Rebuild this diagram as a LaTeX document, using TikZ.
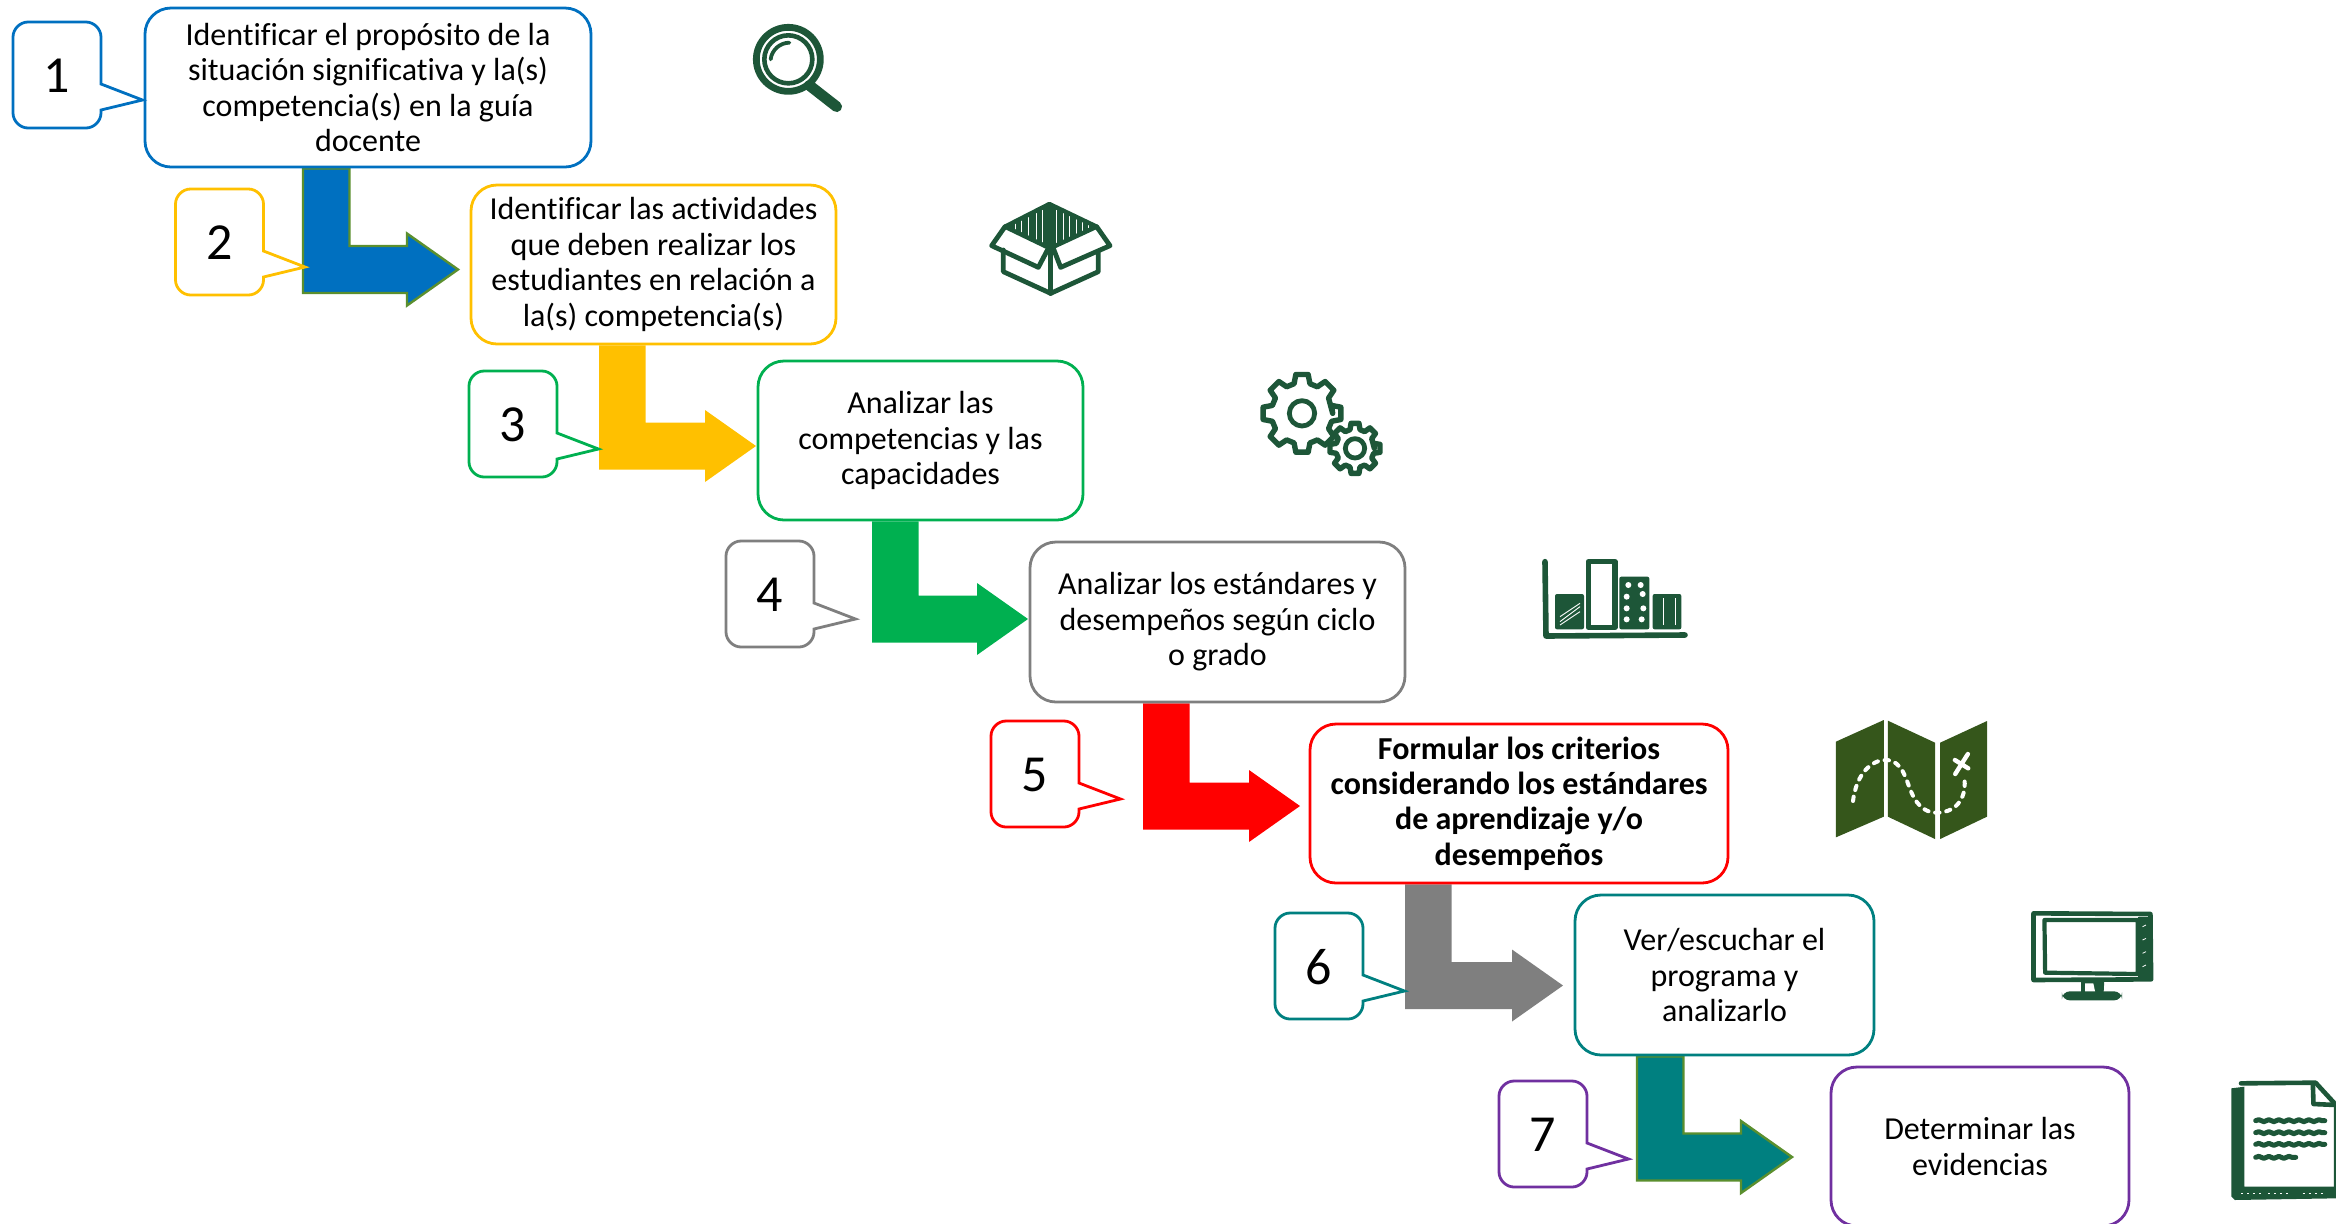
\documentclass[tikz,border=0pt]{standalone}
\usepackage{fontspec}
\setmainfont{Carlito}[Ligatures=CommonOff]
\usetikzlibrary{calc,decorations.pathmorphing}
\pgfdeclarelayer{back}
\pgfsetlayers{back,main}
\definecolor{cblue}{HTML}{0070C0}
\definecolor{cgold}{HTML}{FFC000}
\definecolor{cgreen}{HTML}{00B050}
\definecolor{cgray}{HTML}{7F7F7F}
\definecolor{cred}{HTML}{FF0000}
\definecolor{cteal}{HTML}{008080}
\definecolor{cpurple}{HTML}{7030A0}
\definecolor{coutl}{HTML}{5B8F2E}
\definecolor{icon}{HTML}{1D5638}
\definecolor{mapc}{HTML}{35561B}
\tikzset{
  boxst/.style={rectangle,rounded corners=13pt,line width=1.4pt,fill=white,inner sep=0pt,align=center,
    font=\fontsize{16}{17.7}\selectfont},
  numst/.style={inner sep=0pt,font=\fontsize{26}{28}\selectfont},
  callst/.style={line width=1.4pt,fill=white,line join=miter},
  outl/.style={draw=coutl,line width=1.2pt},
  ic/.style={draw=icon,line cap=round,line join=round},
}
\newcommand{\stepnode}[7]{%
  \node[boxst,draw=#6,minimum width={(#4-#2)*.5pt},minimum height={(#5-#3)*.5pt}] (#1) at ({(#2+#4)/2},{(#3+#5)/2}) {#7};}
\newcommand{\calloutnode}[5]{%
  \draw[callst,draw=#4]
    ({#2+88},{#3+88}) -- ({#2+88},{#3+91})
    .. controls ({#2+88},{#3+99}) and ({#2+81},{#3+106}) .. ({#2+73},{#3+106})
    -- ({#2+15},{#3+106})
    .. controls ({#2+7},{#3+106}) and ({#2},{#3+99}) .. ({#2},{#3+91})
    -- ({#2},{#3+15})
    .. controls ({#2},{#3+7}) and ({#2+7},{#3}) .. ({#2+15},{#3})
    -- ({#2+73},{#3})
    .. controls ({#2+81},{#3}) and ({#2+88},{#3+7}) .. ({#2+88},{#3+15})
    -- ({#2+88},{#3+62}) -- ({#2+129.5},{#3+78}) -- cycle;
  \node[numst] (#1) at ({#2+44},{#3+54}) {#5};}
\newcommand{\bent}[6]{% source node, left x, tip name, tip x, centre y, fill+style
  \coordinate (#3) at (#4,#5);
  \coordinate (#3L) at (#2,0);
  \coordinate (#3R) at ({#2+46.5},0);
  \begin{pgfonlayer}{back}
  \filldraw[#6] (#3L |- #1.south) -- (#3R |- #1.south) -- ({#2+46.5},{#5-23.5}) -- ({#4-51},{#5-23.5})
    -- ({#4-51},{#5-36}) -- (#3) -- ({#4-51},{#5+36}) -- ({#4-51},{#5+23.5}) -- (#2,{#5+23.5}) -- cycle;
  \end{pgfonlayer}}
\newcommand{\gearshape}[5]{% cx cy ro ri hub
  \begin{scope}[shift={(#1,#2)}]
   \draw[ic,line width=2.7pt,fill=white] (0:#4)
    \foreach \a in {0,45,...,315} { -- ({\a-15}:#4) -- ({\a-9}:#3) -- ({\a+9}:#3) -- ({\a+15}:#4) } -- cycle;
   \draw[ic,line width=2.4pt] (0,0) circle (#5);
  \end{scope}}
\begin{document}
\begin{tikzpicture}[x=.5pt,y=-.5pt]
\useasboundingbox (0,0) rectangle (2336,1223);
% step boxes
\stepnode{b1}{145}{8}{591}{167}{cblue}{Identificar el propósito de la\\situación significativa y la(s)\\competencia(s) en la guía\\docente}
\stepnode{b2}{471}{185}{836}{344}{cgold}{Identificar las actividades\\que deben realizar los\\estudiantes en relación a\\la(s) competencia(s)}
\stepnode{b3}{758}{361}{1083}{520}{cgreen}{Analizar las\\competencias y las\\capacidades}
\stepnode{b4}{1030}{542}{1405}{702}{cgray}{Analizar los estándares y\\desempeños según ciclo\\o grado}
\stepnode{b5}{1310}{724}{1728}{883}{cred}{\bfseries Formular los criterios\\\bfseries considerando los estándares\\\bfseries de aprendizaje y/o\\\bfseries desempeños}
\stepnode{b6}{1575}{895}{1874}{1055}{cteal}{Ver/escuchar el\\programa y\\analizarlo}
\stepnode{b7}{1831}{1067}{2129}{1226}{cpurple}{Determinar las\\evidencias}
% bent arrows
\bent{b1}{303}{t1}{458}{269.5}{fill=cblue,outl}
\bent{b2}{599}{t2}{756}{446}{fill=cgold,draw=none}
\bent{b3}{872}{t3}{1028}{619}{fill=cgreen,draw=none}
\bent{b4}{1143}{t4}{1300}{806}{fill=cred,draw=none}
\bent{b5}{1405}{t5}{1563}{985.5}{fill=cgray,draw=none}
\bent{b6}{1637}{t6}{1792}{1157}{fill=cteal,outl}
% numbered callouts
\calloutnode{c1}{13}{22}{cblue}{1}
\calloutnode{c2}{175.5}{189}{cgold}{2}
\calloutnode{c3}{469}{371}{cgreen}{3}
\calloutnode{c4}{726}{541}{cgray}{4}
\calloutnode{c5}{991}{721}{cred}{5}
\calloutnode{c6}{1275}{913}{cteal}{6}
\calloutnode{c7}{1499}{1081}{cpurple}{7}
% magnifier
\begin{scope}[shift={(720,0)},scale=1/3]
 \draw[ic,line width=3.4pt] (205,178) circle (96);
 \draw[ic,line width=2.3pt] (205,178) circle (72);
 \draw[ic,line width=1.9pt] (152,178) .. controls (155,150) and (180,128) .. (208,128);
 \draw[ic,line width=5.4pt] (268,256) -- (350,320);
\end{scope}
% open box
\begin{scope}[shift={(720,0)},scale=1/3]
 \fill[icon] (988,612) -- (1130,680) -- (990,745) -- (855,680) -- cycle;
 \foreach \xx/\ya/\yb in {885/668/694,905/660/704,925/650/712,948/636/724,968/625/730,1010/624/732,1030/634/722,1048/644/714,1068/654/704,1088/664/696,1106/672/688}
   \draw[white,line width=.5pt] (\xx,\ya) -- (\xx,\yb);
 \draw[ic,line width=2.2pt] (988,612) -- (1130,680) -- (990,745) -- (855,680) -- cycle;
 \draw[ic,line width=2.4pt] (855,680) -- (815,737) -- (955,802) -- (985,745);
 \draw[ic,line width=2.4pt] (1130,680) -- (1170,737) -- (1022,802) -- (1000,745);
 \draw[ic,line width=2.4pt] (850,750) -- (850,815) -- (992,880) -- (1135,815) -- (1135,755);
 \draw[ic,line width=2.6pt] (992,745) -- (992,880);
\end{scope}
% gears
\begin{scope}[shift={(1230,340)},scale=1/3]
 \gearshape{216}{220}{118}{92}{38}
 \gearshape{375}{325}{76}{58}{29}
\end{scope}
% bar chart
\begin{scope}[shift={(1230,340)},scale=1/3]
 \draw[ic,line width=2.8pt] (945,665) -- (948,888) -- (1365,885);
 \fill[icon,rounded corners=1pt] (975,762) rectangle (1062,868);
 \foreach \ya/\yb in {830/790,845/800,855/815}
   \draw[white,line width=.45pt] (990,\ya) -- (1050,\yb);
 \draw[ic,line width=2.6pt] (1075,665) rectangle (1155,862);
 \fill[icon,rounded corners=1pt] (1168,710) rectangle (1258,868);
 \foreach \xx/\yy in {1195/735,1232/735,1190/770,1238/762,1190/805,1240/805,1190/838,1235/838}
   \fill[white] (\xx,\yy) circle (9);
 \fill[icon,rounded corners=1pt] (1268,762) rectangle (1354,868);
 \foreach \xx in {1300,1336}
   \draw[white,line width=.45pt] (\xx,775) -- (\xx,855);
\end{scope}
% map
\begin{scope}[shift={(1800,700)},xscale=1/2.925,yscale=1/3]
 \fill[mapc] (105,125) -- (245,60) -- (245,350) -- (105,412) -- cycle;
 \fill[mapc] (257,62) -- (395,128) -- (395,417) -- (257,350) -- cycle;
 \fill[mapc] (410,128) -- (547,63) -- (547,350) -- (410,417) -- cycle;
 \draw[white,line width=2pt,line cap=round,dash pattern=on 2.2pt off 3.4pt]
   (155,303) .. controls (165,220) and (210,180) .. (250,180)
   .. controls (300,180) and (310,240) .. (325,275)
   .. controls (345,325) and (375,340) .. (405,338)
   .. controls (460,335) and (490,290) .. (480,228);
 \draw[white,line width=2.2pt,line cap=round] (454,222) -- (491,162) (453,180) -- (492,205);
\end{scope}
% monitor
\begin{scope}[shift={(1800,700)},xscale=1/2.925,yscale=1/3]
 \fill[icon] (988,650) rectangle (1028,838);
 \draw[ic,line width=2.3pt] (683,640) -- (1025,642) -- (1027,838) -- (683,840) -- cycle;
 \draw[ic,line width=2.1pt] (715,660) -- (988,660) -- (988,822) -- (717,818) -- cycle;
 \fill[icon] (822,840) -- (890,840) -- (888,880) -- (822,880) -- cycle;
 \fill[white] (834,850) -- (858,850) -- (865,884) -- (834,878) -- cycle;
 \fill[icon,rounded corners=4pt] (766,874) -- (942,874) -- (942,901) -- (766,901) -- cycle;
 \foreach \yy in {680,720,760,800}
   \draw[white,line width=.4pt] (1002,\yy) -- (1012,{\yy-5});
\end{scope}
% document
\begin{scope}[shift={(1800,700)},xscale=1/2.925,yscale=1/3]
 \fill[icon] (1262,1165) -- (1300,1160) -- (1300,1460) -- (1568,1460) -- (1568,1495) -- (1272,1500) -- (1262,1490) -- cycle;
 \draw[ic,line width=2.3pt] (1290,1150) -- (1508,1148) -- (1568,1215) -- (1568,1470);
 \draw[ic,line width=2.3pt] (1500,1150) -- (1502,1212) -- (1568,1215);
 \foreach \xa/\xb in {1290/1350,1370/1440,1470/1540}
   \draw[white,line width=.4pt,dash pattern=on 1pt off 2pt] (\xa,1480) -- (\xb,1480);
 \foreach \yy/\xb in {1262/1535,1298/1535,1333/1535,1372/1450}
   \draw[ic,line width=2.5pt,decorate,decoration={snake,amplitude=.5pt,segment length=5pt}] (1333,\yy) -- (\xb,\yy);
\end{scope}
\end{tikzpicture}
\end{document}
